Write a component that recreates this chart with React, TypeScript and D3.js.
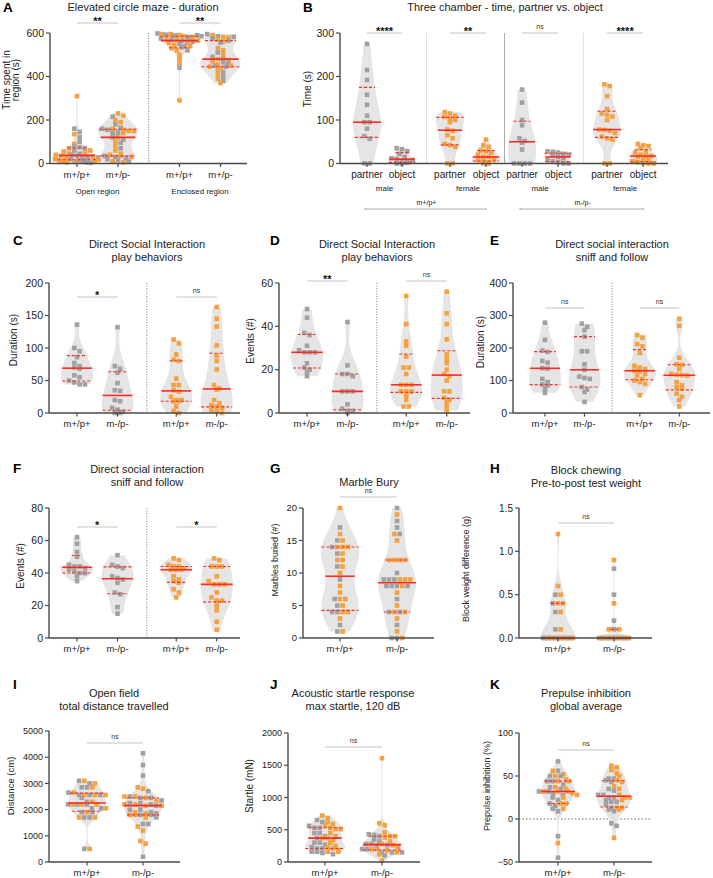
import React from "react";
import * as d3 from "d3";

const FONT = "'Liberation Sans', Arial, Helvetica, sans-serif";
const C_GRAY = "#a1a1a1";
const C_ORANGE = "#f5a140";
const C_VIOLIN = "#e5e5e5";
const C_RED = "#ff2b22";
const C_AXIS = "#4a4a4a";

// ---------------- DATA ----------------
// A: Elevated circle maze - duration (s)
const A_labels = ["m+/p+", "m+/p-", "m+/p+", "m+/p-"];
const A_gray = [
  [160, 145, 120, 100, 80, 75, 70, 60, 45, 40, 35, 30, 25, 20, 15, 10, 5, 3, 28],
  [215, 180, 165, 160, 155, 145, 140, 130, 120, 110, 95, 70, 35, 30, 25, 20, 15, 8],
  [598, 592, 588, 580, 575, 570, 565, 560, 550, 540, 535, 520, 440, 590, 585],
  [595, 585, 575, 565, 555, 582, 510, 490, 480, 465, 450, 445, 420, 400, 380, 460],
];
const A_orange = [
  [310, 135, 90, 70, 55, 45, 40, 35, 25, 20, 15, 10, 5, 8, 30, 50, 60, 12, 18],
  [230, 220, 200, 190, 160, 155, 150, 150, 140, 120, 100, 80, 60, 40, 35, 30, 10, 5, 45],
  [595, 595, 590, 585, 580, 575, 570, 560, 555, 545, 530, 520, 500, 480, 460, 290, 540, 565],
  [590, 580, 570, 560, 578, 530, 520, 500, 480, 470, 455, 445, 440, 430, 410, 390, 370, 475, 450],
];
const A_ticks = [0, 200, 400, 600];

// B: Three chamber - time, partner vs. object (s)
const B_labels = ["partner", "object", "partner", "object", "partner", "object", "partner", "object"];
const B_sex = ["male", "female", "male", "female"];
const B_geno = ["m+/p+", "m-/p-"];
const B_gray = [
  [275, 215, 192, 158, 135, 110, 95, 95, 80, 63, 57, 0, 0],
  [35, 33, 28, 22, 15, 12, 10, 5, 3, 0, 0, 8, 2],
  [],
  [],
  [170, 140, 100, 88, 58, 52, 48, 32, 0, 0, 0, 0],
  [28, 27, 25, 22, 18, 15, 12, 8, 5, 3, 0, 0, 20],
  [],
  [],
];
const B_orange = [
  [],
  [],
  [118, 115, 110, 107, 103, 100, 95, 78, 75, 65, 58, 45, 42, 38, 0, 0],
  [55, 42, 38, 30, 28, 25, 20, 15, 15, 12, 8, 5, 3, 0, 0, 10],
  [],
  [],
  [182, 178, 155, 125, 115, 112, 108, 100, 78, 77, 75, 70, 62, 58, 55, 0, 0],
  [45, 42, 40, 35, 28, 25, 20, 18, 15, 12, 8, 5, 3, 2, 0, 0, 17],
];
const B_ticks = [0, 100, 200, 300];

const GENO4 = ["m+/p+", "m-/p-", "m+/p+", "m-/p-"];
const GENO2 = ["m+/p+", "m-/p-"];

// C: Direct social interaction play behaviors - duration (s)
const C_gray = [
  [136, 100, 95, 86, 77, 72, 70, 68, 58, 55, 50, 47, 44, 44],
  [132, 72, 68, 62, 46, 35, 34, 20, 18, 8, 5, 2, 0, 0],
  [],
  [],
];
const C_orange = [
  [],
  [],
  [113, 107, 90, 82, 80, 53, 43, 43, 35, 33, 25, 20, 20, 18, 18, 10, 3, 0],
  [163, 145, 133, 104, 88, 80, 67, 43, 38, 36, 20, 15, 12, 10, 8, 5, 3, 0],
];
const C_ticks = [0, 50, 100, 150, 200];

// D: Direct social interaction play behaviors - events (#)
const D_gray = [
  [48, 44, 37, 36, 31, 29, 28, 28, 28, 23, 21, 20, 19, 17],
  [42, 22, 18, 18, 17, 10, 10, 10, 4, 2, 1, 1, 0],
  [],
  [],
];
const D_orange = [
  [],
  [],
  [54, 41, 33, 31, 26, 21, 21, 18, 13, 13, 13, 10, 10, 10, 8, 6, 3, 3],
  [56, 46, 41, 34, 27, 25, 23, 20, 18, 17, 15, 10, 10, 7, 6, 5, 3, 1],
];
const D_ticks = [0, 20, 40, 60];

// E: Direct social interaction sniff and follow - duration (s)
const E_gray = [
  [278, 225, 192, 188, 160, 155, 138, 137, 105, 95, 88, 85, 75, 62],
  [275, 265, 255, 235, 190, 190, 150, 133, 112, 108, 105, 80, 72, 65, 34],
  [],
  [],
];
const E_orange = [
  [],
  [],
  [240, 232, 212, 205, 185, 145, 140, 135, 130, 128, 120, 115, 105, 100, 95, 90, 55],
  [290, 268, 170, 150, 148, 135, 120, 118, 117, 115, 95, 85, 80, 75, 60, 50, 40, 20],
];
const E_ticks = [0, 100, 200, 300, 400];

// F: Direct social interaction sniff and follow - events (#)
const F_gray = [
  [62, 58, 53, 50, 45, 44, 44, 43, 42, 41, 40, 40, 38, 35],
  [51, 45, 44, 43, 38, 37, 36, 34, 28, 27, 19, 15],
  [],
  [],
];
const F_orange = [
  [],
  [],
  [49, 48, 45, 44, 44, 43, 42, 42, 42, 38, 36, 35, 34, 30, 28, 25],
  [49, 48, 44, 44, 44, 38, 35, 33, 33, 33, 28, 25, 23, 23, 20, 17, 10, 5],
];
const F_ticks = [0, 20, 40, 60, 80];

// G: Marble bury (#)
const G_gray = [
  [17, 15, 14, 13, 11, 9, 6, 5, 4, 4, 2, 1],
  [20, 18, 17, 16, 10, 9, 9, 9, 8, 8, 8, 8, 6, 4, 4, 2, 0, 0],
];
const G_orange = [
  [20, 16, 15, 14, 14, 14, 13, 12, 12, 11, 10, 8, 7, 6, 6, 5, 4, 4, 3, 1],
  [19, 16, 15, 12, 12, 12, 12, 9, 9, 9, 8, 7, 5, 4, 4, 3, 1, 0],
];
const G_ticks = [0, 5, 10, 15, 20];

// H: Block chewing weight difference (g)
const H_gray = [
  [0.5, 0.4, 0.3, 0.1, 0, 0, 0, 0, 0, 0, 0],
  [0.8, 0.5, 0.2, 0.1, 0, 0, 0, 0, 0, 0, 0, 0],
];
const H_orange = [
  [1.2, 0.6, 0.5, 0.4, 0.4, 0.3, 0.1, 0, 0, 0, 0, 0, 0, 0],
  [0.9, 0.4, 0.1, 0.1, 0, 0, 0, 0, 0, 0, 0, 0],
];
const H_ticks = [0, 0.5, 1.0, 1.5];

// I: Open field distance (cm)
const I_gray = [
  [3100, 3000, 2850, 2850, 2650, 2560, 2560, 2560, 2450, 2300, 2200, 2200, 2200, 2050, 2050, 1900, 1900, 1700, 1700, 500],
  [4150, 3700, 3300, 2700, 2500, 2450, 2450, 2350, 2250, 2250, 2200, 2150, 2000, 2000, 1900, 1850, 1800, 1800, 1700, 1450, 1450, 200],
];
const I_orange = [
  [3100, 3000, 2850, 2650, 2560, 2560, 2560, 2300, 2200, 2200, 2200, 2050, 1900, 1700, 1700, 500],
  [2850, 2800, 2500, 2500, 2450, 2350, 2200, 2200, 2150, 2150, 1900, 1850, 1800, 1800, 1700, 1350, 1200, 800, 700],
];
const I_ticks = [0, 1000, 2000, 3000, 4000, 5000];

// J: Acoustic startle (mN)
const J_gray = [
  [650, 620, 560, 530, 530, 450, 450, 400, 370, 300, 300, 270, 230, 210, 210, 160, 160, 140, 120],
  [430, 420, 400, 350, 320, 280, 280, 260, 260, 200, 200, 150, 150, 150, 100],
];
const J_orange = [
  [720, 680, 620, 590, 560, 530, 510, 510, 450, 400, 370, 370, 340, 300, 250, 230, 210, 190, 160, 160],
  [1610, 600, 570, 460, 400, 400, 380, 320, 280, 260, 230, 200, 200, 180, 150, 120, 20],
];
const J_ticks = [0, 500, 1000, 1500, 2000];

// K: Prepulse inhibition (%)
const K_gray = [
  [67, 56, 50, 50, 44, 44, 40, 37, 35, 32, 32, 30, 28, 25, 22, 18, 15, 12, 9, -20, -45],
  [47, 47, 45, 43, 35, 33, 28, 28, 25, 25, 22, 20, 20, 17, 13, 11, 9, -5, -8],
];
const K_orange = [
  [56, 52, 50, 46, 44, 44, 37, 35, 32, 32, 32, 30, 28, 25, 18, 18, 12, -28],
  [62, 60, 57, 53, 50, 45, 43, 38, 35, 28, 25, 25, 22, 13, 13, 11, -22],
];
const K_ticks = [-50, 0, 50, 100];

// ---------------- LAYOUT / TYPES ----------------
type Sig = { a: number; b: number; text: string; y: number };
type Sub = { a: number; b: number; text: string; dy: number; size: number; bracket?: boolean };
type Sep = { slot: number; dotted: boolean; color: string };
type Spec = {
  letter: string; letterX: number; letterY: number;
  title: string[]; titleX: number; titleY: number;
  left: number; right: number; top: number; bottom: number;
  domain: [number, number]; ticks: number[]; fmt: (v: number) => string; tickSize: number;
  ylabel: string[]; ylabelX: number; ylabelY: number; ylabelSize: number;
  labels: string[]; labelSize: number; gray: number[][]; orange: number[][];
  x0: number; unit: number; slots: number[];
  maxHalf: number; rowW: number;
  sigs: Sig[]; seps?: Sep[]; subs?: Sub[]; zeroLine?: boolean;
};

const f0 = (v: number) => d3.format("d")(v);
const f1 = (v: number) => d3.format(".1f")(v);
const SL4 = [0, 1, 2.45, 3.45];
const SL2 = [0, 1];

const specs: Spec[] = [
  {
    letter: "A", letterX: 3, letterY: 12,
    title: ["Elevated circle maze - duration"], titleX: 143, titleY: 11,
    left: 50, right: 247, top: 33, bottom: 163.5, domain: [0, 600], ticks: A_ticks, fmt: f0, tickSize: 10.5,
    ylabel: ["Time spent in", "region (s)"], ylabelX: 9.5, ylabelY: 80, ylabelSize: 10,
    labels: A_labels, labelSize: 9.5, gray: A_gray, orange: A_orange,
    x0: 77, unit: 41, slots: [0, 1, 2.5, 3.5], maxHalf: 20, rowW: 44,
    sigs: [{ a: 0, b: 1, text: "**", y: 23 }, { a: 2, b: 3, text: "**", y: 23 }],
    seps: [{ slot: 1.75, dotted: true, color: "#777" }],
    subs: [{ a: 0, b: 1, text: "Open region", dy: 30, size: 8 }, { a: 2, b: 3, text: "Enclosed region", dy: 30, size: 8 }],
  },
  {
    letter: "B", letterX: 303, letterY: 12,
    title: ["Three chamber - time, partner vs. object"], titleX: 505, titleY: 11,
    left: 340, right: 668, top: 33, bottom: 163.5, domain: [0, 300], ticks: B_ticks, fmt: f0, tickSize: 10.5,
    ylabel: ["Time (s)"], ylabelX: 310.5, ylabelY: 89, ylabelSize: 10,
    labels: B_labels, labelSize: 10, gray: B_gray, orange: B_orange,
    x0: 367, unit: 35, slots: [0, 1, 2.37, 3.4, 4.43, 5.46, 6.86, 7.89], maxHalf: 14, rowW: 30,
    sigs: [
      { a: 0, b: 1, text: "****", y: 33 }, { a: 2, b: 3, text: "**", y: 33 },
      { a: 4, b: 5, text: "ns", y: 33 }, { a: 6, b: 7, text: "****", y: 33 },
    ],
    seps: [
      { slot: 1.7, dotted: false, color: "#dedede" },
      { slot: 3.93, dotted: false, color: "#a8a8a8" },
      { slot: 6.18, dotted: false, color: "#dedede" },
    ],
    subs: [
      { a: 0, b: 1, text: B_sex[0], dy: 27, size: 8 }, { a: 2, b: 3, text: B_sex[1], dy: 27, size: 8 },
      { a: 4, b: 5, text: B_sex[2], dy: 27, size: 8 }, { a: 6, b: 7, text: B_sex[3], dy: 27, size: 8 },
      { a: 0, b: 3, text: B_geno[0], dy: 41, size: 7, bracket: true },
      { a: 4, b: 7, text: B_geno[1], dy: 41, size: 7, bracket: true },
    ],
  },
  {
    letter: "C", letterX: 13, letterY: 245,
    title: ["Direct Social Interaction", "play behaviors"], titleX: 147, titleY: 248,
    left: 49, right: 240, top: 283, bottom: 413, domain: [0, 200], ticks: C_ticks, fmt: f0, tickSize: 10.5,
    ylabel: ["Duration (s)"], ylabelX: 16.5, ylabelY: 340, ylabelSize: 10,
    labels: GENO4, labelSize: 9.5, gray: C_gray, orange: C_orange,
    x0: 77, unit: 40.5, slots: SL4, maxHalf: 16, rowW: 34,
    sigs: [{ a: 0, b: 1, text: "*", y: 297 }, { a: 2, b: 3, text: "ns", y: 297 }],
    seps: [{ slot: 1.725, dotted: true, color: "#777" }],
  },
  {
    letter: "D", letterX: 270, letterY: 245,
    title: ["Direct Social Interaction", "play behaviors"], titleX: 377, titleY: 248,
    left: 279, right: 470, top: 283, bottom: 413, domain: [0, 60], ticks: D_ticks, fmt: f0, tickSize: 10.5,
    ylabel: ["Events (#)"], ylabelX: 253.5, ylabelY: 341, ylabelSize: 10,
    labels: GENO4, labelSize: 9.5, gray: D_gray, orange: D_orange,
    x0: 307, unit: 40.5, slots: SL4, maxHalf: 16, rowW: 34,
    sigs: [{ a: 0, b: 1, text: "**", y: 281 }, { a: 2, b: 3, text: "ns", y: 281 }],
    seps: [{ slot: 1.725, dotted: true, color: "#777" }],
  },
  {
    letter: "E", letterX: 490, letterY: 245,
    title: ["Direct social interaction", "sniff and follow"], titleX: 612, titleY: 248,
    left: 513, right: 710, top: 283, bottom: 413, domain: [0, 400], ticks: E_ticks, fmt: f0, tickSize: 10.5,
    ylabel: ["Duration (s)"], ylabelX: 483.5, ylabelY: 342, ylabelSize: 10,
    labels: GENO4, labelSize: 9.5, gray: E_gray, orange: E_orange,
    x0: 545, unit: 39.5, slots: [0, 1, 2.4, 3.4], maxHalf: 16, rowW: 34,
    sigs: [{ a: 0, b: 1, text: "ns", y: 308 }, { a: 2, b: 3, text: "ns", y: 308 }],
    seps: [{ slot: 1.7, dotted: true, color: "#777" }],
  },
  {
    letter: "F", letterX: 13, letterY: 473,
    title: ["Direct social interaction", "sniff and follow"], titleX: 147, titleY: 473,
    left: 49, right: 240, top: 508, bottom: 638, domain: [0, 80], ticks: F_ticks, fmt: f0, tickSize: 10.5,
    ylabel: ["Events (#)"], ylabelX: 23.5, ylabelY: 566, ylabelSize: 10,
    labels: GENO4, labelSize: 9.5, gray: F_gray, orange: F_orange,
    x0: 77, unit: 40.5, slots: SL4, maxHalf: 16, rowW: 34,
    sigs: [{ a: 0, b: 1, text: "*", y: 527 }, { a: 2, b: 3, text: "*", y: 527 }],
    seps: [{ slot: 1.725, dotted: true, color: "#777" }],
  },
  {
    letter: "G", letterX: 270, letterY: 473,
    title: ["Marble Bury"], titleX: 369, titleY: 486,
    left: 303, right: 434, top: 508, bottom: 638, domain: [0, 20], ticks: G_ticks, fmt: f0, tickSize: 9.5,
    ylabel: ["Marbles buried (#)"], ylabelX: 278, ylabelY: 560, ylabelSize: 9,
    labels: GENO2, labelSize: 9.5, gray: G_gray, orange: G_orange,
    x0: 340, unit: 57, slots: SL2, maxHalf: 19, rowW: 36,
    sigs: [{ a: 0, b: 1, text: "ns", y: 497 }],
  },
  {
    letter: "H", letterX: 490, letterY: 473,
    title: ["Block chewing", "Pre-to-post test weight"], titleX: 586, titleY: 474,
    left: 519, right: 652, top: 508, bottom: 638, domain: [0, 1.5], ticks: H_ticks, fmt: f1, tickSize: 10,
    ylabel: ["Block weight difference (g)"], ylabelX: 469, ylabelY: 569, ylabelSize: 9,
    labels: GENO2, labelSize: 9.5, gray: H_gray, orange: H_orange,
    x0: 558, unit: 56, slots: SL2, maxHalf: 17, rowW: 30,
    sigs: [{ a: 0, b: 1, text: "ns", y: 523 }],
  },
  {
    letter: "I", letterX: 13, letterY: 689,
    title: ["Open field", "total distance travelled"], titleX: 114, titleY: 697,
    left: 49, right: 180, top: 731, bottom: 862, domain: [0, 5000], ticks: I_ticks, fmt: f0, tickSize: 9,
    ylabel: ["Distance (cm)"], ylabelX: 14, ylabelY: 786, ylabelSize: 9.5,
    labels: GENO2, labelSize: 9.5, gray: I_gray, orange: I_orange,
    x0: 87, unit: 56, slots: SL2, maxHalf: 19, rowW: 38,
    sigs: [{ a: 0, b: 1, text: "ns", y: 743 }],
  },
  {
    letter: "J", letterX: 270, letterY: 689,
    title: ["Acoustic startle response", "max startle, 120 dB"], titleX: 353, titleY: 697,
    left: 288, right: 420, top: 733, bottom: 862, domain: [0, 2000], ticks: J_ticks, fmt: f0, tickSize: 9,
    ylabel: ["Startle (mN)"], ylabelX: 252.5, ylabelY: 786, ylabelSize: 10,
    labels: GENO2, labelSize: 9.5, gray: J_gray, orange: J_orange,
    x0: 325, unit: 57, slots: SL2, maxHalf: 20, rowW: 40,
    sigs: [{ a: 0, b: 1, text: "ns", y: 747 }],
  },
  {
    letter: "K", letterX: 490, letterY: 689,
    title: ["Prepulse inhibition", "global average"], titleX: 586, titleY: 697,
    left: 519, right: 652, top: 733, bottom: 862, domain: [-50, 100], ticks: K_ticks, fmt: f0, tickSize: 9,
    ylabel: ["Prepulse inhibition (%)"], ylabelX: 490, ylabelY: 786, ylabelSize: 9,
    labels: GENO2, labelSize: 9.5, gray: K_gray, orange: K_orange,
    x0: 558, unit: 56, slots: SL2, maxHalf: 17, rowW: 38,
    sigs: [{ a: 0, b: 1, text: "ns", y: 750 }],
    zeroLine: true,
  },
];

// ---------------- STATS ----------------
function pquant(sorted: number[], p: number) {
  const n = sorted.length;
  const pos = (n + 1) * p;
  if (pos <= 1) return sorted[0];
  if (pos >= n) return sorted[n - 1];
  const lo = Math.floor(pos);
  return sorted[lo - 1] + (pos - lo) * (sorted[lo] - sorted[lo - 1]);
}

function makeKde(values: number[]) {
  const s = values.slice().sort((a, b) => a - b);
  const n = s.length;
  const sd = d3.deviation(s) || 0;
  const iqr = (d3.quantile(s, 0.75) as number) - (d3.quantile(s, 0.25) as number);
  let spread = sd;
  if (iqr > 0) spread = Math.min(sd, iqr / 1.34);
  let h = 0.9 * spread * Math.pow(n, -0.2);
  if (!(h > 0)) h = (s[n - 1] - s[0] || 1) * 0.1;
  const f = (v: number) => d3.sum(s, (x) => Math.exp(-0.5 * ((v - x) / h) ** 2));
  return { f, s, min: s[0], max: s[n - 1] };
}

// ---------------- COMPONENTS ----------------
function Group({ spec, gi, y, cx }: { spec: Spec; gi: number; y: d3.ScaleLinear<number, number>; cx: number }) {
  const gray = spec.gray[gi] || [];
  const orange = spec.orange[gi] || [];
  const all = gray.concat(orange);
  if (!all.length) return null;
  const k = makeKde(all);
  const grid = d3.range(0, 101).map((i) => k.min + ((k.max - k.min) * i) / 100);
  const dens = grid.map(k.f);
  const maxD = d3.max(dens) || 1;
  const w = (v: number) => (k.f(v) / maxD) * spec.maxHalf;
  const pts: [number, number][] = grid.map((v, i) => [v, (dens[i] / maxD) * spec.maxHalf]);
  const area = d3
    .area<[number, number]>()
    .y((d) => y(d[0]))
    .x0((d) => cx - Math.max(d[1], 0.6))
    .x1((d) => cx + Math.max(d[1], 0.6))
    .curve(d3.curveCatmullRom);
  const med = pquant(k.s, 0.5);
  const q1 = pquant(k.s, 0.25);
  const q3 = pquant(k.s, 0.75);

  // swarm layout
  const sz = 4.6;
  const sp = 5.3;
  type P = { v: number; c: string; key: number };
  const list: P[] = [
    ...gray.map((v, i) => ({ v, c: C_GRAY, key: (i + 0.25) / gray.length })),
    ...orange.map((v, i) => ({ v, c: C_ORANGE, key: (i + 0.75) / orange.length })),
  ].sort((a, b) => b.v - a.v || a.key - b.key);
  const rows: P[][] = [];
  let cur: P[] = [];
  for (const p of list) {
    if (cur.length && Math.abs(y(p.v) - y(cur[0].v)) >= sz * 0.9) {
      rows.push(cur);
      cur = [];
    }
    cur.push(p);
  }
  if (cur.length) rows.push(cur);
  const placed: { x: number; y: number; c: string }[] = [];
  rows.forEach((row) => {
    const n = row.length;
    const step = n > 1 ? Math.min(sp, spec.rowW / (n - 1)) : 0;
    const ordered = row.slice().sort((a, b) => a.key - b.key);
    ordered.forEach((p, i) => {
      placed.push({ x: cx + (i - (n - 1) / 2) * step, y: y(p.v), c: p.c });
    });
  });

  const line = (v: number, dashed: boolean, key: string) => {
    const hw = Math.max(w(v), 3);
    return (
      <line
        key={key}
        x1={cx - hw}
        x2={cx + hw}
        y1={y(v)}
        y2={y(v)}
        stroke={C_RED}
        strokeWidth={dashed ? 1.1 : 1.6}
        strokeDasharray={dashed ? "3,2" : undefined}
      />
    );
  };

  return (
    <g>
      <path d={area(pts) || ""} fill={C_VIOLIN} stroke="none" />
      {placed.map((p, i) => (
        <rect key={i} x={p.x - sz / 2} y={p.y - sz / 2} width={sz} height={sz} fill={p.c} />
      ))}
      {line(q1, true, "q1")}
      {line(q3, true, "q3")}
      {line(med, false, "md")}
    </g>
  );
}

function Panel({ spec }: { spec: Spec }) {
  const y = d3.scaleLinear().domain(spec.domain).range([spec.bottom, spec.top]);
  const gx = d3.scaleLinear().domain([0, 1]).range([spec.x0, spec.x0 + spec.unit]);
  const xs = spec.slots.map((s) => gx(s));
  return (
    <g fontFamily={FONT}>
      <text x={spec.letterX} y={spec.letterY} fontSize={13.5} fontWeight="bold" fill="#000">
        {spec.letter}
      </text>
      {spec.title.map((t, i) => (
        <text key={i} x={spec.titleX} y={spec.titleY + i * 12.5} fontSize={11} textAnchor="middle" fill="#222">
          {t}
        </text>
      ))}
      {spec.seps &&
        spec.seps.map((s, i) => (
          <line
            key={"sep" + i}
            x1={gx(s.slot)}
            x2={gx(s.slot)}
            y1={spec.top}
            y2={spec.bottom}
            stroke={s.color}
            strokeWidth={1}
            strokeDasharray={s.dotted ? "1,1.6" : undefined}
          />
        ))}
      {spec.zeroLine && (
        <line x1={spec.left} x2={spec.right} y1={y(0)} y2={y(0)} stroke="#555" strokeWidth={0.9} strokeDasharray="1.5,2" />
      )}
      {spec.labels.map((_, gi) => (
        <Group key={gi} spec={spec} gi={gi} y={y} cx={xs[gi]} />
      ))}
      {/* y axis */}
      <line x1={spec.left} x2={spec.left} y1={spec.top} y2={spec.bottom} stroke={C_AXIS} strokeWidth={1.4} />
      {spec.ticks.map((t) => (
        <g key={"t" + t}>
          <line x1={spec.left - 4} x2={spec.left} y1={y(t)} y2={y(t)} stroke={C_AXIS} strokeWidth={1.2} />
          <text x={spec.left - 6} y={y(t) + spec.tickSize * 0.36} fontSize={spec.tickSize} textAnchor="end" fill="#222">
            {spec.fmt(t)}
          </text>
        </g>
      ))}
      {/* x axis */}
      <line x1={spec.left} x2={spec.right} y1={spec.bottom} y2={spec.bottom} stroke={C_AXIS} strokeWidth={1.4} />
      {spec.labels.map((l, gi) => (
        <g key={"xl" + gi}>
          <line x1={xs[gi]} x2={xs[gi]} y1={spec.bottom} y2={spec.bottom + 3.5} stroke={C_AXIS} strokeWidth={1.2} />
          <text x={xs[gi]} y={spec.bottom + 14} fontSize={spec.labelSize} textAnchor="middle" fill="#222">
            {l}
          </text>
        </g>
      ))}
      {/* y label */}
      {spec.ylabel.map((t, i) => (
        <text
          key={"yl" + i}
          transform={`translate(${spec.ylabelX + i * 9},${spec.ylabelY}) rotate(-90)`}
          fontSize={spec.ylabelSize}
          textAnchor="middle"
          fill="#222"
        >
          {t}
        </text>
      ))}
      {/* significance */}
      {spec.sigs.map((s, i) => {
        const xa = gx(spec.slots[s.a]);
        const xb = gx(spec.slots[s.b]);
        const stars = s.text !== "ns";
        return (
          <g key={"sig" + i}>
            <line x1={xa} x2={xb} y1={s.y} y2={s.y} stroke="#c4c4c4" strokeWidth={1} />
            <text
              x={(xa + xb) / 2}
              y={stars ? s.y + 1.5 : s.y - 4}
              fontSize={stars ? 11 : 7}
              fontWeight={stars ? "bold" : "normal"}
              textAnchor="middle"
              fill={stars ? "#111" : "#333"}
            >
              {s.text}
            </text>
          </g>
        );
      })}
      {spec.subs &&
        spec.subs.map((s, i) => {
          const xa = gx(spec.slots[s.a]);
          const xb = gx(spec.slots[s.b]);
          return (
            <g key={"sub" + i}>
              <text x={(xa + xb) / 2} y={spec.bottom + s.dy} fontSize={s.size} textAnchor="middle" fill="#222">
                {s.text}
              </text>
              {s.bracket && (
                <g stroke="#999" strokeWidth={0.8}>
                  <line x1={xa - 2} x2={xb} y1={spec.bottom + s.dy + 4.5} y2={spec.bottom + s.dy + 4.5} />
                  <line x1={xa - 2} x2={xa - 2} y1={spec.bottom + s.dy + 3.5} y2={spec.bottom + s.dy + 5.5} />
                  <line x1={xb} x2={xb} y1={spec.bottom + s.dy + 3.5} y2={spec.bottom + s.dy + 5.5} />
                </g>
              )}
            </g>
          );
        })}
    </g>
  );
}

export default function App() {
  return (
    <div style={{ position: "absolute", left: 0, top: 0 }}>
      <svg width={713} height={878} viewBox="0 0 713 878" style={{ display: "block", background: "#fff" }}>
        {specs.map((s) => (
          <Panel key={s.letter} spec={s} />
        ))}
      </svg>
    </div>
  );
}
